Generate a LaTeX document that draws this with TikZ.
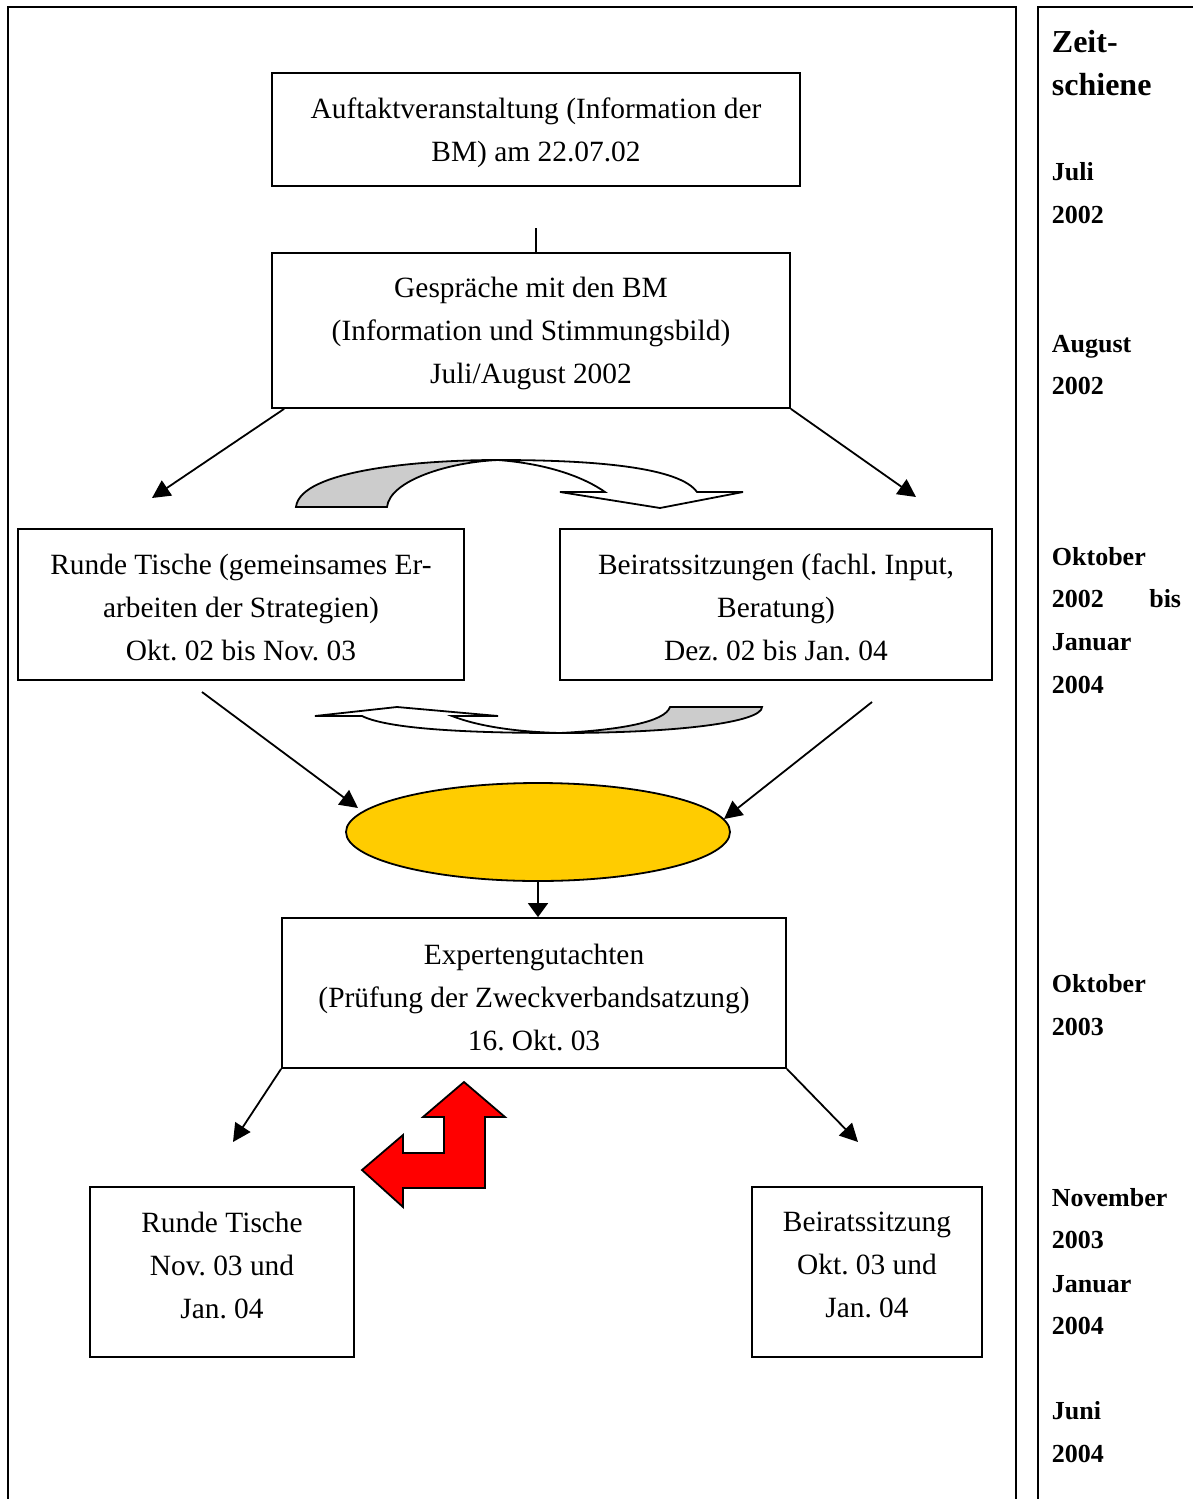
\documentclass[tikz,border=0pt]{standalone}
\usepackage{fontspec}
\setmainfont{Liberation Serif}
\usetikzlibrary{arrows.meta,shapes.geometric}
\definecolor{ergebnisgelb}{RGB}{255,204,0}
\definecolor{pfeilgrau}{RGB}{204,204,204}
\frenchspacing

\begin{document}
\begin{tikzpicture}[x=0.5pt,y=-0.5pt,line width=0.9pt,
    box/.style={draw,rectangle,align=center,inner sep=0pt,text depth=0pt,font=\fontsize{14.7}{21.5}\selectfont},
    arr/.style={-{Triangle[length=9pt,width=9pt]}},
    zeit/.style={anchor=base west,inner sep=0pt,font=\fontsize{13}{15}\selectfont\bfseries}]
  \useasboundingbox (0,0) rectangle (1193,1499);
  % Rahmen
  \draw (8,1499) -- (8,7) -- (1016,7) -- (1016,1499);
  \draw (1038,1499) -- (1038,7) -- (1193,7);

  % Kaesten
  \node[box,minimum width=264pt,minimum height=56.5pt] (auftakt) at (536,129.5)
    {Auftaktveranstaltung (Information der\\BM) am 22.07.02};
  \node[box,minimum width=259pt,minimum height=77.5pt] (gespr) at (531,330.5)
    {Gespräche mit den BM\\(Information und Stimmungsbild)\\Juli/August 2002};
  \node[box,text height=56pt,minimum width=223pt,minimum height=75.5pt] (runde) at (241,604.5)
    {Runde Tische (gemeinsames Er-\\arbeiten der Strategien)\\Okt. 02 bis Nov. 03};
  \node[box,text height=56pt,minimum width=216pt,minimum height=75.5pt] (beirat) at (776,604.5)
    {Beiratssitzungen (fachl. Input,\\Beratung)\\Dez. 02 bis Jan. 04};
  \node[draw,ellipse,fill=ergebnisgelb,minimum width=192pt,minimum height=49pt] (erg) at (538,832) {};
  \node[box,text height=57pt,minimum width=252pt,minimum height=75pt] (exp) at (534,993)
    {Expertengutachten\\(Prüfung der Zweckverbandsatzung)\\16. Okt. 03};
  \node[box,text depth=7pt,minimum width=132pt,minimum height=85pt] (runde2) at (222,1272)
    {Runde Tische\\Nov. 03 und\\Jan. 04};
  \node[box,text depth=7pt,minimum width=115pt,minimum height=85pt] (beirat2) at (867,1272)
    {Beiratssitzung\\Okt. 03 und\\Jan. 04};

  % Verbindungen
  \coordinate (l1) at (536,228);
  \coordinate (pRunde) at (152,498);
  \coordinate (pBeirat) at (916,497);
  \coordinate (q1) at (202,692);
  \coordinate (q2) at (872,702);
  \coordinate (e1) at (358,808);
  \coordinate (e2) at (724,819);
  \coordinate (pRunde2) at (233,1142);
  \coordinate (pBeirat2) at (858,1142);
  \draw (l1) -- (l1 |- gespr.north);
  \draw[arr] ([xshift=6.5pt]gespr.south west) -- (pRunde);
  \draw[arr] (gespr.south east) -- (pBeirat);
  \draw[arr] (q1) -- (e1);
  \draw[arr] (q2) -- (e2);
  \draw[-{Triangle[length=7pt,width=10pt]}] (erg.south) -- (erg.south |- exp.north);
  \draw[arr] (exp.south west) -- (pRunde2);
  \draw[arr] (exp.south east) -- (pBeirat2);

  % gebogene Pfeile
  \draw[fill=pfeilgrau] (296,507) .. controls (300,470) and (420,460) .. (498,460)
    .. controls (450,462) and (390,480) .. (387,507) -- cycle;
  \draw[fill=white] (498,460) .. controls (600,460) and (680,468) .. (697,492)
    -- (743,492) -- (660,508) -- (560,492) -- (605,492)
    .. controls (585,478) and (550,464) .. (498,460);
  \draw[fill=pfeilgrau] (762,707) .. controls (762,722) and (680,733) .. (560,733)
    .. controls (620,730) and (665,722) .. (670,707) -- cycle;
  \draw[fill=white] (560,733) .. controls (480,733) and (390,730) .. (362,716)
    -- (315,716) -- (397,707) -- (498,716) -- (452,716)
    .. controls (480,727) and (520,732) .. (560,733);

  % roter Doppelpfeil
  \draw[fill=red] (464,1082) -- (505,1117) -- (485,1117) -- (485,1188) -- (403,1188)
    -- (403,1207) -- (362,1170) -- (403,1135) -- (403,1153) -- (444,1153)
    -- (444,1117) -- (423,1117) -- cycle;

  % Zeitschiene
  \node[zeit,font=\fontsize{16}{18}\selectfont\bfseries] (z0) at (1051,53) {Zeit-};
  \node[zeit,font=\fontsize{16}{18}\selectfont\bfseries] (z1) at (1051,95) {schiene};
  \node[zeit] (z2) at (1051,180) {Juli};
  \node[zeit] (z3) at (1051,223) {2002};
  \node[zeit] (z4) at (1051,352) {August};
  \node[zeit] (z5) at (1051,394) {2002};
  \node[zeit] (z6) at (1051,565) {Oktober};
  \node[zeit] (z7) at (1051,607) {2002};
  \node[zeit,anchor=base east] (z7b) at (1182,607) {bis};
  \node[zeit] (z8) at (1051,650) {Januar};
  \node[zeit] (z9) at (1051,693) {2004};
  \node[zeit] (z10) at (1051,992) {Oktober};
  \node[zeit] (z11) at (1051,1035) {2003};
  \node[zeit] (z12) at (1051,1206) {November};
  \node[zeit] (z13) at (1051,1248) {2003};
  \node[zeit] (z14) at (1051,1292) {Januar};
  \node[zeit] (z15) at (1051,1334) {2004};
  \node[zeit] (z16) at (1051,1419) {Juni};
  \node[zeit] (z17) at (1051,1462) {2004};
\end{tikzpicture}
\end{document}
